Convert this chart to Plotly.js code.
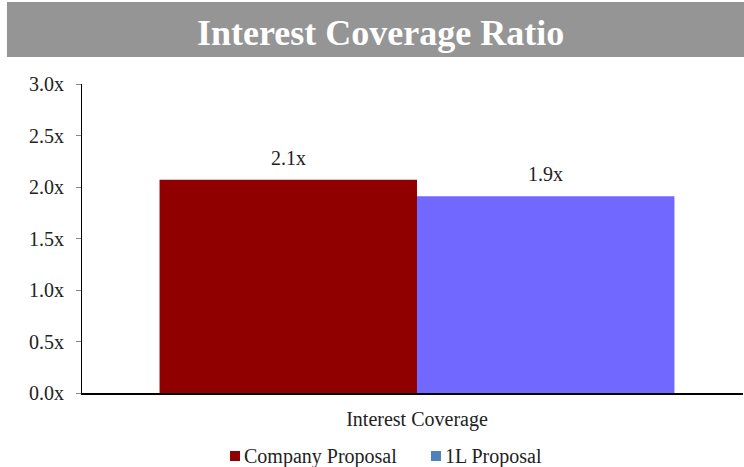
<!DOCTYPE html>
<html>
<head>
<meta charset="utf-8">
<script src="https://cdn.plot.ly/plotly-3.0.1.min.js"></script>
<style>html,body{margin:0;padding:0;background:#fff;}#chart{width:744px;height:467px;}</style>
</head>
<body>
<div id="chart"></div>
<script>
const categories = ["Interest Coverage"];
const seriesNames = ["Company Proposal", "1L Proposal"];
const companyValues = [2.07];
const firstLienValues = [1.91];
const yTickVals = [0, 0.5, 1, 1.5, 2, 2.5, 3];
const yTickText = ["0.0x", "0.5x", "1.0x", "1.5x", "2.0x", "2.5x", "3.0x"];

const FONT = "Liberation Serif, Times New Roman, serif";
const barColors = ["#900000", "#7169FF"];
const legendColors = ["#900000", "#4F81BD"];
const seriesValues = [companyValues, firstLienValues];

const BARGAP = 0.221;
const barW = (1 - BARGAP) / 2;

const traces = seriesNames.map((name, i) => ({
  type: "bar",
  name: name,
  x: categories,
  y: seriesValues[i],
  marker: {color: barColors[i], line: {width: 0}},
  showlegend: false,
  hoverinfo: "skip"
}));

const annotations = [];
seriesValues.forEach((vals, i) => {
  vals.forEach((v, j) => {
    annotations.push({
      xref: "x", yref: "y",
      x: j + (i - 0.5) * barW,
      y: v,
      yshift: 22,
      text: v.toFixed(1) + "x",
      showarrow: false,
      xanchor: "center", yanchor: "middle",
      font: {family: FONT, size: 20, color: "#222"}
    });
  });
});

// Title banner text
annotations.push({
  xref: "paper", yref: "paper",
  x: 0.4523, y: 1.166,
  text: "<b>Interest Coverage Ratio</b>",
  showarrow: false, xanchor: "center", yanchor: "middle",
  font: {family: FONT, size: 36, color: "#ffffff"}
});

// Custom legend
const legendX = [0.2239, 0.5280];
const shapes = [{
  type: "rect", xref: "paper", yref: "paper",
  x0: -0.1135, x1: 1.0015, y0: 1.0874, y1: 1.2654,
  fillcolor: "#959595", line: {width: 0}, layer: "below"
}];
seriesNames.forEach((name, i) => {
  shapes.push({
    type: "rect", xref: "paper", yref: "paper",
    x0: legendX[i], x1: legendX[i] + 0.0151, y0: -0.2201, y1: -0.1877,
    fillcolor: legendColors[i], line: {width: 0}
  });
  annotations.push({
    xref: "paper", yref: "paper",
    x: legendX[i] + 0.0185, y: -0.2039,
    text: name, showarrow: false, xanchor: "left", yanchor: "middle",
    font: {family: FONT, size: 20, color: "#222"}
  });
});

const layout = {
  width: 744, height: 467,
  margin: {l: 82, r: 1, t: 84, b: 74, pad: 0},
  paper_bgcolor: "#ffffff", plot_bgcolor: "#ffffff",
  barmode: "group", bargap: BARGAP, bargroupgap: 0,
  showlegend: false,
  font: {family: FONT, size: 20, color: "#222"},
  xaxis: {
    type: "category",
    range: [-0.5068, 0.4932],
    showline: true, linecolor: "#000", linewidth: 1.5,
    ticks: "", showgrid: false, zeroline: false,
    tickfont: {family: FONT, size: 20, color: "#222"},
    ticklabelstandoff: 7
  },
  yaxis: {
    range: [0, 3],
    tickvals: yTickVals, ticktext: yTickText,
    showline: true, linecolor: "#000", linewidth: 1,
    ticks: "outside", ticklen: 5, tickcolor: "#888", tickwidth: 1,
    showgrid: false, zeroline: false,
    tickfont: {family: FONT, size: 20, color: "#222"},
    ticklabelstandoff: 8
  },
  shapes: shapes,
  annotations: annotations
};

Plotly.newPlot("chart", traces, layout, {displayModeBar: false, staticPlot: true});
</script>
</body>
</html>
